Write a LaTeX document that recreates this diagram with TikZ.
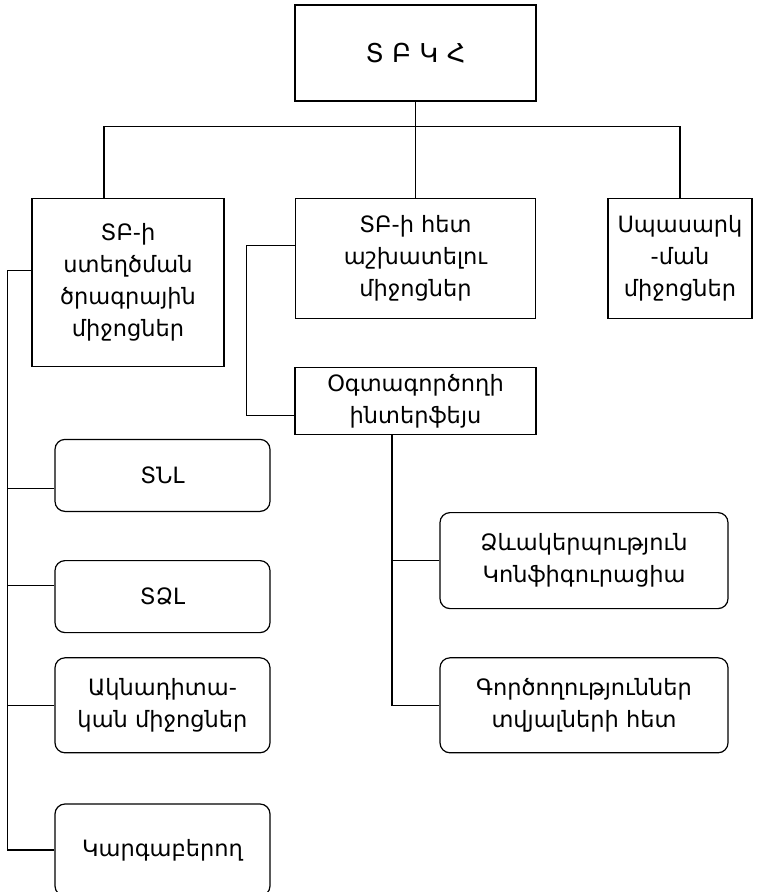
\documentclass[tikz,border=0pt]{standalone}
\usepackage{fontspec}
\setmainfont{DejaVu Sans}
\usetikzlibrary{positioning}
\tikzstyle{sqnode} = [%
  rectangle,
  draw=black,
  line width=1.2pt,
  align=center,
  fill=none,
  text centered,
  inner sep=2pt,
  font=\fontsize{22.5}{32}\selectfont
]
\tikzstyle{rnode} = [sqnode, rounded corners=10pt]

\begin{document}
\begin{tikzpicture}[%
  line width=1.1pt,
  every node/.style={text=black}
]
  \useasboundingbox (0,0) rectangle (770pt,-892pt);

  % Nodes
  \node[sqnode,minimum width=241pt,minimum height=96pt,font=\fontsize{26}{30}\selectfont] (TBKH) at (415.5pt,-53pt) {Տ Բ Կ Հ};
  \node[sqnode,minimum width=192pt,minimum height=168pt,below=96pt of TBKH,xshift=-287.5pt] (SW) {ՏԲ-ի\\ստեղծման\\ծրագրային\\միջոցներ};
  \node[sqnode,minimum width=240pt,minimum height=120pt,below=96pt of TBKH] (MID) {ՏԲ-ի հետ\\աշխատելու\\միջոցներ};
  \node[sqnode,minimum width=144pt,minimum height=120pt,below=96pt of TBKH,xshift=264.5pt] (SERV) {Սպասարկ\\-ման\\միջոցներ};
  \node[sqnode,minimum width=241pt,minimum height=67pt,below=48pt of MID] (UI) {Օգտագործողի\\ինտերֆեյս};
  \node[rnode,minimum width=215pt,minimum height=72pt,below=72pt of SW,xshift=34.5pt] (TNL) {ՏՆԼ};
  \node[rnode,minimum width=215pt,minimum height=72pt,below=48pt of TNL] (TDL) {ՏՁԼ};
  \node[rnode,minimum width=215pt,minimum height=95pt,below=24pt of TDL] (AKN) {Ակնադիտա-\\կան միջոցներ};
  \node[rnode,minimum width=215pt,minimum height=92pt,below=50pt of AKN] (KARG) {Կարգաբերող};
  \node[rnode,minimum width=288pt,minimum height=96pt,below=77pt of UI,xshift=168.5pt] (DZEV) {Ձևակերպություն\\Կոնֆիգուրացիա};
  \node[rnode,minimum width=288pt,minimum height=95pt,below=48pt of DZEV] (GORC) {Գործողություններ\\տվյալների հետ};

  % Top bus
  \coordinate (bus) at ([yshift=-25pt]TBKH.south);
  \draw (TBKH.south) -- (bus);
  \draw ([xshift=-24pt]SW.north) |- (bus) -| (SERV.north);
  \draw (MID.north) -- (MID.north |- bus);

  % Left branch
  \draw ([yshift=12pt]SW.west) -- ++(-24pt,0) |- (KARG.west);
  \draw ([yshift=-13pt]TNL.west) -- ++(-47pt,0);
  \draw ([yshift=11pt]TDL.west) -- ++(-47pt,0);
  \draw (AKN.west) -- ++(-47pt,0);

  % Middle branch
  \draw ([yshift=13pt]MID.west) -- ++(-48pt,0) |- ([yshift=-14.5pt]UI.west);
  \draw ([xshift=-23.5pt]UI.south) |- (GORC.west);
  \draw (DZEV.west) -- ++(-48pt,0);

\end{tikzpicture}
\end{document}
